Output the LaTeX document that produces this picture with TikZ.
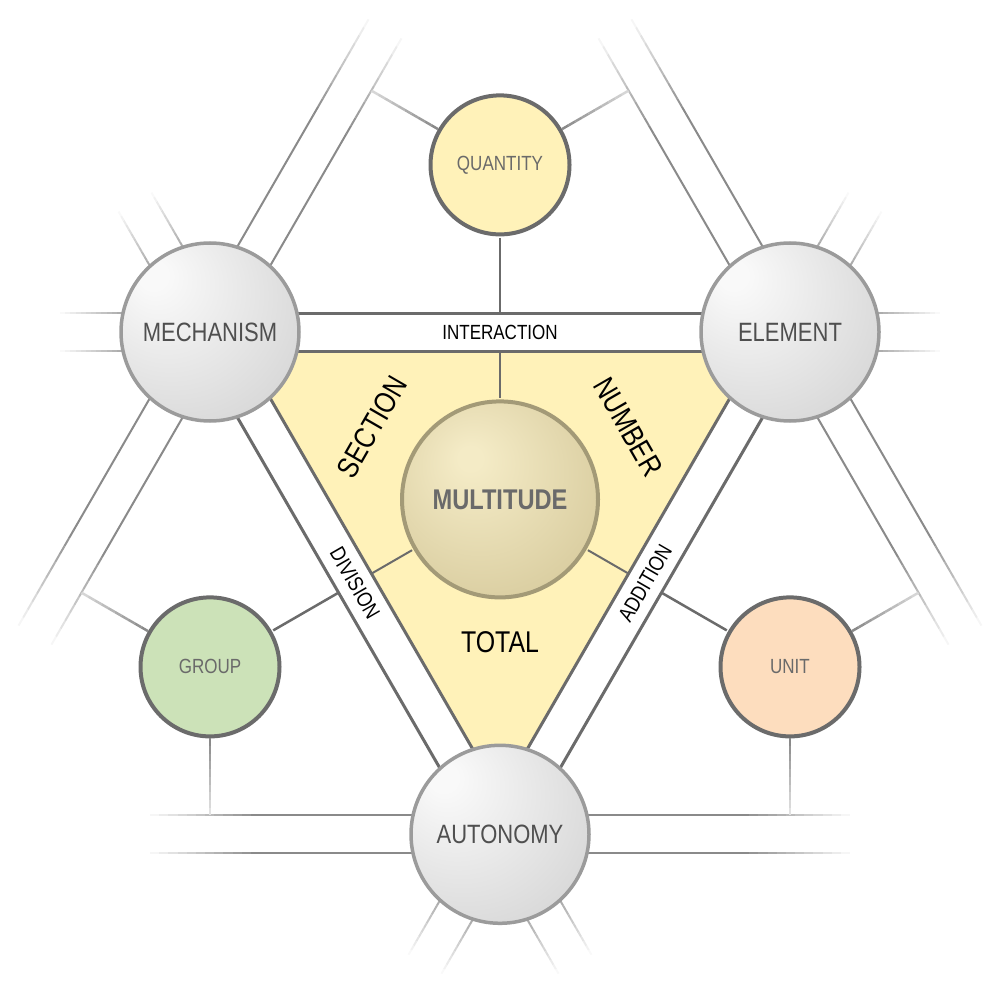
\documentclass[tikz,border=0pt]{standalone}
\usepackage{fontspec}
\setmainfont{Liberation Sans}[FakeStretch=0.83]
\usetikzlibrary{calc}

\definecolor{triyellow}{HTML}{FFF2B9}
\definecolor{grpgreen}{HTML}{CCE2B8}
\definecolor{unitpeach}{HTML}{FDDDBE}
\definecolor{darkline}{HTML}{6B6B6B}
\definecolor{fadegray}{HTML}{8A8A8A}
\definecolor{ballrim}{HTML}{9B9B9B}
\definecolor{ballhi}{HTML}{F9F9F9}
\definecolor{balllo}{HTML}{BBBBBB}
\definecolor{goldhi}{HTML}{F4EBC6}
\definecolor{goldmid}{HTML}{D3C697}
\definecolor{goldlo}{HTML}{B3A678}
\definecolor{goldrim}{HTML}{A39A77}
\definecolor{labelgray}{HTML}{4F4F4F}
\definecolor{smallgray}{HTML}{6A6A6A}

\pgfdeclareradialshading{greyball}{\pgfpoint{-17bp}{17bp}}{color(0bp)=(ballhi); color(4bp)=(ballhi); color(66bp)=(balllo)}
\pgfdeclareradialshading{goldball}{\pgfpoint{-8bp}{11bp}}{color(0bp)=(goldhi); color(3bp)=(goldhi); color(40bp)=(goldmid); color(62bp)=(goldlo)}

% #1 centre, #2 angle, #3 start, #4 end of solid part, #5 end, #6 start strength
\newcommand{\fadeband}[6]{%
  \begin{scope}[shift={(#1)},rotate=#2]
    \foreach \s in {-19,19}{
      \draw[color=fadegray!#6!white, line width=2pt] (#3,\s) -- (#4,\s);
      \foreach \k [evaluate=\k as \pc using {int(#6-#6*\k/12)}] in {0,...,11}
        \draw[color=fadegray!\pc!white, line width=2pt] ({#4+(#5-#4)*\k/12},\s) -- ({#4+(#5-#4)*(\k+1)/12},\s);
    }
  \end{scope}}

% #1 node anchor, #2 coordinate, #3 end strength
\newcommand{\fadeconn}[3]{%
  \foreach \k [evaluate=\k as \pc using {int(100-(100-#3)*\k/9)}] in {0,...,9}
    \draw[color=fadegray!\pc!white, line width=2.5pt] ($(#1)!\k/10!(#2)$) -- ($(#1)!\k/10+0.1!(#2)$);}

\begin{document}
\begin{tikzpicture}[x=1pt,y=-1pt,
  bigball/.style={circle,draw=ballrim,line width=3.5pt,shading=greyball,minimum size=178pt,inner sep=0pt,text=labelgray,font=\fontsize{26.5}{30}\selectfont},
  smallball/.style={circle,draw=darkline,line width=4pt,minimum size=139pt,inner sep=0pt,text=smallgray,font=\fontsize{20.5}{24}\selectfont},
  bandline/.style={draw=darkline,line width=3pt},
  conn/.style={draw=darkline,line width=2.5pt,shorten <=1.5pt},
  bandlabel/.style={font=\fontsize{20.5}{24}\selectfont},
  partlabel/.style={font=\fontsize{30}{34}\selectfont}]
\useasboundingbox (0,0) rectangle (1000,1000);

\coordinate (A) at (210,332);
\coordinate (B) at (790,332);
\coordinate (C) at (500,834.3);
\coordinate (G) at (500,499.4);

% yellow inner triangle
\fill[triyellow] ($(G)!0.8865!(A)$) -- ($(G)!0.8865!(B)$) -- ($(G)!0.8865!(C)$) -- cycle;

% outer bands and stubs
\fadeband{A}{60}{88}{240}{350}{100}
\fadeband{A}{240}{88}{240}{350}{100}
\fadeband{A}{180}{88}{88}{150}{70}
\fadeband{A}{120}{88}{88}{150}{70}
\fadeband{B}{120}{88}{240}{350}{100}
\fadeband{B}{300}{88}{240}{350}{100}
\fadeband{B}{0}{88}{88}{150}{70}
\fadeband{B}{60}{88}{88}{150}{70}
\fadeband{C}{180}{88}{240}{350}{100}
\fadeband{C}{0}{88}{240}{350}{100}
\fadeband{C}{240}{88}{88}{150}{70}
\fadeband{C}{300}{88}{88}{150}{70}

% triangle bands
\draw[bandline] ($(A)+(0,-19)$) -- ($(B)+(0,-19)$);
\draw[bandline] ($(A)+(0,19)$) -- ($(B)+(0,19)$);
\draw[bandline] ($(A)+(16.45,-9.5)$) -- ($(C)+(16.45,-9.5)$);
\draw[bandline] ($(A)+(-16.45,9.5)$) -- ($(C)+(-16.45,9.5)$);
\draw[bandline] ($(B)+(-16.45,-9.5)$) -- ($(C)+(-16.45,-9.5)$);
\draw[bandline] ($(B)+(16.45,9.5)$) -- ($(C)+(16.45,9.5)$);

\node[bandlabel] (interlbl) at ($(A)!0.5!(B)$) {INTERACTION};
\node[bandlabel,font=\fontsize{21.5}{24}\selectfont,rotate=-60] (divlbl) at ($(A)!0.5!(C)$) {DIVISION};
\node[bandlabel,font=\fontsize{21.5}{24}\selectfont,rotate=60] (addlbl) at ($(B)!0.5!(C)$) {ADDITION};

\node[partlabel,rotate=60] (seclbl) at (372,427) {SECTION};
\node[partlabel,rotate=-60] (numlbl) at (628,427) {NUMBER};
\node[partlabel] (totlbl) at (500,642) {TOTAL};

% connector ends
\coordinate (qdown) at (500,313);
\coordinate (qleft) at (371.5,90.7);
\coordinate (qright) at (628.5,90.7);
\coordinate (mup) at (500,351);
\coordinate (mleft) at (371.5,573.6);
\coordinate (mright) at (628.5,573.6);
\coordinate (gright) at (338.5,592.7);
\coordinate (gleft) at (81.5,592.7);
\coordinate (gdown) at (210,815.3);
\coordinate (uleft) at (661.5,592.7);
\coordinate (uright) at (918.5,592.7);
\coordinate (udown) at (790,815.3);

\node[bigball] (mech) at (A) {MECHANISM};
\node[bigball] (elem) at (B) {ELEMENT};
\node[bigball] (auto) at (C) {AUTONOMY};
\node[circle,draw=goldrim,line width=4pt,shading=goldball,minimum size=196pt,inner sep=0pt,text=smallgray,font=\bfseries\fontsize{28.5}{32}\selectfont] (mult) at (G) {MULTITUDE};
\node[smallball,fill=triyellow] (quant) at (500,164.9) {QUANTITY};
\node[smallball,fill=grpgreen] (group) at (210,666.9) {GROUP};
\node[smallball,fill=unitpeach] (unit) at (790,666.9) {UNIT};

\draw[conn] (quant) -- (qdown);
\draw[conn,line width=2pt] (mult) -- (mup);
\draw[conn,line width=2pt] (mult) -- (mleft);
\draw[conn,line width=2pt] (mult) -- (mright);
\draw[conn] (group) -- (gright);
\draw[conn] (unit) -- (uleft);
\fadeconn{quant.150}{qleft}{35}
\fadeconn{quant.30}{qright}{35}
\fadeconn{group.150}{gleft}{35}
\fadeconn{group.south}{gdown}{25}
\fadeconn{unit.30}{uright}{35}
\fadeconn{unit.south}{udown}{25}
\end{tikzpicture}
\end{document}
